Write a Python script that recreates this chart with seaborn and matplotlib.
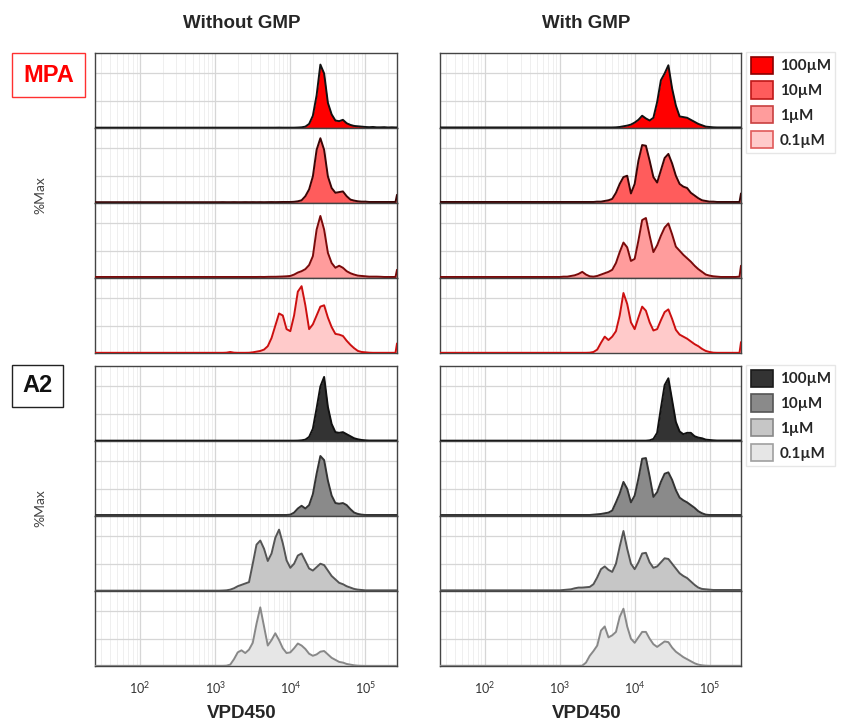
import numpy as np
import matplotlib
matplotlib.use("Agg")
import matplotlib.pyplot as plt
import seaborn as sns
from matplotlib.patches import Patch, Rectangle
from matplotlib.ticker import LogLocator, NullFormatter, LogFormatterMathtext

sns.set_style("white")
plt.rcParams["font.family"] = ["Lato", "DejaVu Sans"]

# -------------------------
# Data (log10 of VPD450 intensity, %Max values)
# -------------------------
log_vpd = [1.40,
           3.00, 3.05, 3.10, 3.15, 3.20, 3.25, 3.30, 3.35, 3.40, 3.45,
           3.50, 3.55, 3.60, 3.65, 3.70, 3.75, 3.80, 3.85, 3.90, 3.95,
           4.00, 4.05, 4.10, 4.15, 4.20, 4.25, 4.30, 4.35, 4.40, 4.45,
           4.50, 4.55, 4.60, 4.65, 4.70, 4.75, 4.80, 4.85, 4.90, 4.95,
           5.00, 5.05, 5.10, 5.15, 5.20, 5.25, 5.30, 5.35, 5.40,
           5.42]

concentrations = ["100µM", "10µM", "1µM", "0.1µM"]
columns = ["Without GMP", "With GMP"]

# MPA, without GMP
mpa_wo_100 = [0.5,
              0.5, 0.5, 0.5, 0.5, 0.5, 0.5, 0.5, 0.5, 0.5, 0.5,
              0.5, 0.5, 0.5, 0.5, 0.5, 0.5, 0.5, 0.6, 0.5, 0.5,
              0.5, 0.5, 0.7, 1, 2, 6, 18, 48, 93, 80,
              37, 20, 11, 10, 12, 7, 4.5, 3, 2.5, 2,
              1.5, 1.2, 1.5, 1, 1, 1.2, 0.8, 1, 0.8,
              0.8]
mpa_wo_10 = [1.2,
             1.2, 1.2, 1.3, 1.2, 1.2, 1.3, 1.2, 1.2, 1.3, 1.2,
             1.3, 1.2, 1.3, 1.2, 1.3, 1.4, 1.3, 1.4, 1.5, 1.5,
             1.5, 1.8, 2.5, 4, 10, 20, 39, 78, 95, 78,
             39, 22, 15, 16, 17, 10, 5, 3.5, 2.5, 2,
             2, 1.5, 1.5, 1.5, 1.5, 1.5, 1.5, 1.5, 1.5,
             12]
mpa_wo_1 = [1.5,
            1.5, 1.5, 1.5, 1.5, 1.5, 1.5, 1.5, 1.5, 1.5, 1.5,
            1.5, 1.5, 1.6, 1.5, 1.7, 1.8, 1.8, 2, 2.2, 2.5,
            3, 5, 8, 10, 13, 19, 32, 71, 91, 71,
            37, 22, 15, 18, 15, 10, 7, 5, 3.5, 3,
            2.5, 2, 2, 2, 1.8, 1.5, 1.5, 1.5, 1.5,
            12]
mpa_wo_01 = [0.3,
             0.3, 0.3, 0.3, 0.5, 1.5, 0.5, 0.3, 0.3, 0.3, 0.4,
             1, 2, 3, 5, 10, 22, 40, 58, 55, 35,
             32, 55, 90, 98, 70, 35, 42, 55, 68, 70,
             52, 38, 28, 27, 25, 18, 12, 7, 3, 1.5,
             1, 0.5, 0.3, 0.3, 0.3, 0.3, 0.3, 0.3, 0.3,
             14]

# MPA, with GMP
mpa_w_100 = [0.8,
             0.8, 0.8, 0.8, 0.8, 0.8, 0.8, 0.8, 0.8, 0.8, 0.8,
             0.8, 0.8, 0.8, 0.8, 0.8, 1, 1.5, 2.5, 3.5, 5,
             8, 12, 18, 14, 11, 15, 38, 70, 80, 92,
             58, 33, 17, 16, 15, 12, 9, 6, 4, 2,
             1.5, 1, 0.8, 0.8, 0.8, 0.8, 0.8, 0.8, 0.8,
             0.8]
mpa_w_10 = [1.5,
            1.5, 1.5, 1.5, 1.5, 1.5, 1.5, 1.5, 1.5, 1.5, 1.5,
            2, 2, 3, 4, 6, 15, 28, 38, 40, 14,
            28, 62, 85, 84, 62, 38, 30, 48, 66, 72,
            58, 40, 28, 24, 22, 15, 11, 7, 4, 3,
            2, 2, 1.5, 1.5, 1.5, 1.5, 1.5, 1.5, 1.5,
            14]
mpa_w_1 = [1.5,
           1.5, 2, 2, 3, 4, 6, 9, 5, 2.5, 2,
           3, 5, 7, 9, 12, 22, 38, 52, 45, 25,
           28, 55, 85, 88, 62, 38, 48, 62, 74, 80,
           64, 46, 40, 34, 29, 24, 18, 13, 9, 5,
           3.5, 2.5, 2, 1.5, 1.5, 1.5, 1.5, 1.5, 2,
           18]
mpa_w_01 = [0.3,
            0.3, 0.3, 0.3, 0.3, 0.3, 0.3, 0.3, 0.3, 0.5, 1.5,
            5, 15, 24, 19, 24, 32, 55, 88, 72, 45,
            35, 52, 68, 62, 45, 33, 35, 48, 60, 64,
            50, 34, 27, 24, 21, 17, 13, 10, 6, 3,
            1.5, 0.5, 0.3, 0.3, 0.3, 0.3, 0.3, 0.3, 0.3,
            16]

# A2, without GMP
a2_wo_100 = [0.5,
             0.5, 0.5, 0.5, 0.5, 0.5, 0.5, 0.5, 0.5, 0.5, 0.5,
             0.5, 0.5, 0.5, 0.5, 0.5, 0.5, 0.5, 0.5, 0.5, 0.5,
             0.5, 0.5, 0.6, 1, 2, 6, 18, 48, 80, 94,
             50, 25, 13, 12, 13, 10, 7, 4, 2.5, 1.5,
             1, 0.7, 0.7, 0.7, 0.7, 0.7, 0.7, 0.7, 0.7,
             0.7]
a2_wo_10 = [1.5,
            1.5, 1.5, 1.5, 1.5, 1.5, 1.5, 1.5, 1.5, 1.5, 1.5,
            1.5, 1.5, 1.5, 1.5, 1.5, 1.5, 1.5, 1.5, 1.5, 1.5,
            2, 5, 11, 15, 11, 16, 32, 62, 88, 82,
            52, 30, 19, 18, 19, 16, 10, 5, 3, 2,
            1.5, 1.5, 1.5, 1.5, 1.5, 1.5, 1.5, 1.5, 1.5,
            1.5]
a2_wo_1 = [0.5,
           0.5, 0.5, 0.7, 1, 2, 4, 7, 9, 11, 13,
           40, 68, 74, 62, 44, 55, 78, 90, 70, 45,
           34, 40, 52, 55, 44, 33, 30, 35, 40, 38,
           30, 22, 17, 12, 10, 7, 5, 3, 2, 1.5,
           1, 1, 1, 1, 1, 1, 1, 1, 1,
           1]
a2_wo_01 = [0.2,
            0.3, 0.3, 0.3, 0.5, 2, 10, 20, 23, 19, 24,
            34, 62, 86, 58, 30, 38, 48, 38, 26, 19,
            20, 26, 33, 30, 25, 18, 15, 17, 21, 22,
            17, 12, 9, 6, 5, 3, 2, 1, 0.5, 0.3,
            0.2, 0.2, 0.2, 0.2, 0.2, 0.2, 0.2, 0.2, 0.2,
            0.2]

# A2, with GMP
a2_w_100 = [0.5,
            0.5, 0.5, 0.5, 0.5, 0.5, 0.5, 0.5, 0.5, 0.5, 0.5,
            0.5, 0.5, 0.5, 0.5, 0.5, 0.5, 0.5, 0.5, 0.5, 0.5,
            0.5, 0.5, 0.5, 0.5, 1, 3, 12, 48, 82, 92,
            60, 28, 14, 10, 12, 12, 7, 5, 4, 2,
            1.5, 1, 0.7, 0.7, 0.7, 0.7, 0.7, 0.7, 0.7,
            0.7]
a2_w_10 = [1.5,
           1.5, 1.5, 1.5, 1.5, 1.5, 1.5, 1.5, 1.5, 1.5, 2,
           2.5, 3, 4, 5, 8, 20, 33, 50, 40, 20,
           30, 55, 84, 85, 58, 28, 35, 50, 62, 64,
           53, 38, 27, 23, 20, 16, 12, 7, 4, 2,
           1.5, 1.5, 1.5, 1.5, 1.5, 1.5, 1.5, 1.5, 1.5,
           1.5]
a2_w_1 = [1,
          1, 1.5, 2, 2.5, 4, 5, 5, 5.5, 6, 10,
          20, 32, 36, 31, 28, 40, 65, 88, 62, 40,
          32, 42, 55, 56, 42, 34, 36, 42, 48, 47,
          40, 33, 26, 22, 19, 14, 9, 5, 3, 2.5,
          2, 1.5, 1.5, 1.5, 1.5, 1.5, 1.5, 1.5, 1.5,
          1.5]
a2_w_01 = [0.3,
           0.3, 0.3, 0.3, 0.3, 0.3, 0.3, 0.5, 5, 15, 22,
           30, 52, 58, 42, 45, 50, 72, 84, 58, 40,
           34, 42, 50, 50, 40, 32, 28, 32, 36, 35,
           27, 21, 17, 13, 10, 7, 4, 2, 1, 0.5,
           0.3, 0.3, 0.3, 0.3, 0.3, 0.3, 0.3, 0.3, 0.3,
           0.3]

# colours per concentration
mpa_fill = ["#ff0000", "#ff5c5c", "#ff9c9c", "#ffcaca"]
mpa_line = ["#111111", "#3a0505", "#7a0a0a", "#cc1010"]
mpa_patch_edge = ["#8a0000", "#c01818", "#c84040", "#e05a5a"]
a2_fill = ["#333333", "#8a8a8a", "#c6c6c6", "#e6e6e6"]
a2_line = ["#111111", "#333333", "#555555", "#888888"]
a2_patch_edge = ["#1a1a1a", "#555555", "#888888", "#a0a0a0"]

groups = [
    ("MPA", [[mpa_wo_100, mpa_wo_10, mpa_wo_1, mpa_wo_01],
             [mpa_w_100, mpa_w_10, mpa_w_1, mpa_w_01]], mpa_fill, mpa_line, mpa_patch_edge),
    ("A2", [[a2_wo_100, a2_wo_10, a2_wo_1, a2_wo_01],
            [a2_w_100, a2_w_10, a2_w_1, a2_w_01]], a2_fill, a2_line, a2_patch_edge),
]

# -------------------------
# Layout (pixel geometry of the 845x723 figure)
# -------------------------
W, H = 845, 723
fig = plt.figure(figsize=(W / 100, H / 100), dpi=100)

col_left = [95, 440]
col_width = [302, 301]
group_top = [53, 366]
row_h = 75.0

vpd = 10 ** np.array(log_vpd)

for g, (name, cols, fills, lines, edges) in enumerate(groups):
    for c in range(2):
        for r in range(4):
            bottom_px = group_top[g] + (r + 1) * row_h
            ax = fig.add_axes([col_left[c] / W, 1 - bottom_px / H,
                               col_width[c] / W, row_h / H])
            vals = np.array(cols[c][r])
            ax.fill_between(vpd, vals, 0, color=fills[r], lw=0, zorder=2)
            sns.lineplot(x=vpd, y=vals, ax=ax, color=lines[r], lw=1.4,
                         zorder=3, estimator=None)
            ax.set_xscale("log")
            ax.set_xlim(10 ** 1.4, 10 ** 5.42)
            ax.set_ylim(0, 110)
            ax.set_yticks([40, 80])
            ax.set_yticklabels([])
            ax.tick_params(axis="y", length=0)
            ax.set_ylabel("")
            ax.xaxis.set_major_locator(LogLocator(base=10, numticks=10))
            ax.xaxis.set_minor_locator(LogLocator(base=10, subs=np.arange(2, 10), numticks=20))
            ax.xaxis.set_minor_formatter(NullFormatter())
            ax.grid(True, which="major", color="#d6d6d6", lw=0.9)
            ax.grid(True, which="minor", axis="x", color="#efefef", lw=0.7)
            ax.set_axisbelow(True)
            for sp in ax.spines.values():
                sp.set_color("#444444")
                sp.set_linewidth(1.0)
            if r < 3:
                ax.tick_params(axis="x", which="both", length=0, labelbottom=False)
            else:
                ax.tick_params(axis="x", which="major", direction="out", length=4,
                               width=0.8, color="#555555", labelsize=9,
                               labelcolor="#333333", pad=6)
                ax.tick_params(axis="x", which="minor", direction="out", length=2.5,
                               width=0.7, color="#555555")
                if g == 1:
                    ax.xaxis.set_major_formatter(LogFormatterMathtext())
                else:
                    ax.tick_params(axis="x", labelbottom=False)

    # legend for the group
    handles = [Patch(facecolor=fills[i], edgecolor=edges[i], lw=1.2) for i in range(4)]
    fig.legend(handles, concentrations, loc="upper left",
               bbox_to_anchor=(746 / W, 1 - (group_top[g] - 1) / H),
               frameon=True, fancybox=False, edgecolor="#e0e0e0",
               prop={"family": "Lato", "weight": "bold", "size": 11},
               handlelength=1.45, handleheight=1.35, labelspacing=0.5,
               handletextpad=0.45, borderpad=0.3, borderaxespad=0)

    # %Max label
    fig.text(40 / W, 1 - (group_top[g] + 142) / H, "%Max", rotation=90,
             ha="center", va="center", fontsize=10, color="#444444")

# -------------------------
# Titles and labels
# -------------------------
for c, title in enumerate(columns):
    cx = (col_left[c] + col_width[c] / 2 - 4) / W
    fig.text(cx, 1 - 24 / H, title, ha="center", va="center", fontsize=13.5,
             weight="bold", family="Liberation Sans")
    fig.text(cx, 1 - 714 / H, "VPD450", ha="center", va="center", fontsize=13.5,
             weight="bold", family="Liberation Sans")

# condition boxes
fig.patches.append(Rectangle((12 / W, 1 - 97 / H), 73 / W, 44 / H,
                             transform=fig.transFigure, fill=False,
                             ec="#ff3030", lw=1.0))
fig.text(48.5 / W, 1 - 75 / H, "MPA", ha="center", va="center", fontsize=17,
         weight="bold", color="#ff0000", family="Liberation Sans")
fig.patches.append(Rectangle((12 / W, 1 - 407 / H), 51 / W, 42 / H,
                             transform=fig.transFigure, fill=False,
                             ec="#222222", lw=1.0))
fig.text(37.5 / W, 1 - 386 / H, "A2", ha="center", va="center", fontsize=17,
         weight="bold", color="#111111", family="Liberation Sans")

plt.savefig("out.png", dpi=100)
